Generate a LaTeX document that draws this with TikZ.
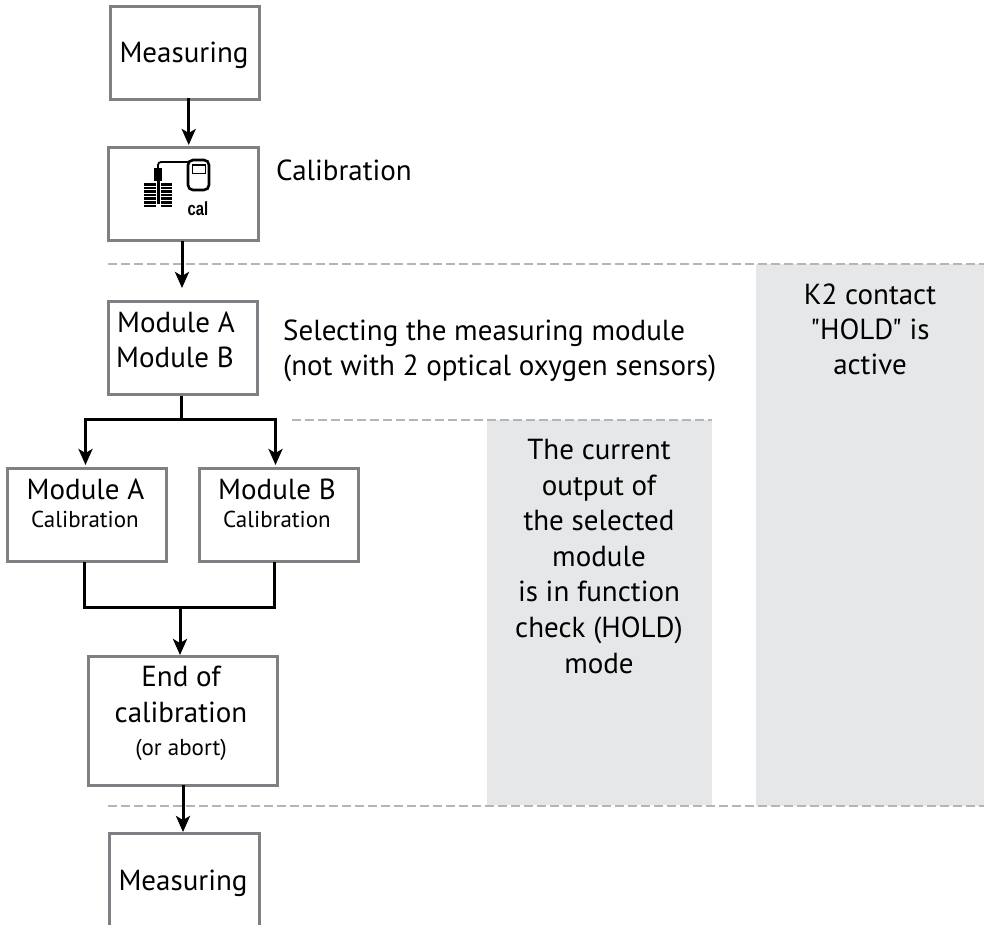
\documentclass[tikz,border=0pt]{standalone}
\usepackage{fontspec}
\setmainfont{PT Sans}
\newfontfamily\plainq{PT Sans}
\newfontfamily\iconfont{Liberation Sans}
\usetikzlibrary{arrows.meta,calc}
\definecolor{boxgray}{HTML}{7F8083}
\definecolor{sepgray}{HTML}{B4B5B8}
\definecolor{shadegray}{HTML}{E6E7E8}
\newcommand{\bigtxt}{\fontsize{29}{35}\selectfont}
\newcommand{\smalltxt}{\fontsize{23}{28}\selectfont}
\tikzset{
 flowbox/.style={draw=boxgray,line width=3pt,fill=white,inner sep=0pt,anchor=north west},
 flow/.style={line width=3pt,draw=black,-{Stealth[length=16pt,width=14pt,inset=4pt]}},
 plain/.style={line width=3pt,draw=black,line join=miter},
 sep/.style={draw=sepgray,line width=2.4pt,dash pattern=on 9pt off 4pt},
 shade/.style={fill=shadegray,draw=none,inner sep=0pt,anchor=north west},
 boxtext/.style={align=center,inner sep=0pt,anchor=base,font=\bigtxt},
 lab/.style={align=left,inner sep=0pt,anchor=north west,font=\bigtxt},
 shadetext/.style={align=center,inner sep=0pt,anchor=north,font=\bigtxt}
}
\begin{document}
\begin{tikzpicture}[x=1pt,y=-1pt]
\useasboundingbox (0,0) rectangle (984,925);
% shaded
\node[shade,minimum width=225pt,minimum height=385pt] (s1) at (487,420) {};
\node[shade,minimum width=228pt,minimum height=542pt] (s2) at (756,264) {};
% separators
\coordinate (d1a) at (108,264); \coordinate (d1b) at (984,264);
\coordinate (d2a) at (292,420); \coordinate (d2b) at (712,420);
\coordinate (d3a) at (108,806); \coordinate (d3b) at (984,806);
\draw[sep] (d1a) -- (d1b);
\draw[sep] (d2a) -- (d2b);
\draw[sep] (d3a) -- (d3b);
% boxes
\node[flowbox,minimum width=149pt,minimum height=93pt] (m1) at (109,5) {};
\node[flowbox,minimum width=150pt,minimum height=93pt] (c) at (107,146) {};
\node[flowbox,minimum width=149pt,minimum height=93pt] (mm) at (107,300) {};
\node[flowbox,minimum width=159pt,minimum height=93pt] (a) at (6,467) {};
\node[flowbox,minimum width=159pt,minimum height=93pt] (b) at (198,467) {};
\node[flowbox,minimum width=189pt,minimum height=129pt] (e) at (87,655) {};
\node[flowbox,minimum width=150pt,minimum height=110pt] (m2) at (108,832) {};
% box texts
\node[boxtext] (m1t) at (184,63) {Measuring};
\node[boxtext] (mm1) at (176,332) {Module A};
\node[boxtext] (mm2) at (175,367) {Module B};
\node[boxtext] (a1) at (85.5,499) {Module A};
\node[boxtext,font=\smalltxt] (a2) at (85,527) {Calibration};
\node[boxtext] (b1) at (277,499) {Module B};
\node[boxtext,font=\smalltxt] (b2) at (277,527) {Calibration};
\node[boxtext] (e1) at (181,686) {End of};
\node[boxtext] (e2) at (181,722) {calibration};
\node[boxtext,font=\smalltxt] (e3) at (181,755) {(or abort)};
\node[boxtext] (m2t) at (183,890) {Measuring};
% icon
\begin{scope}
\foreach \yy in {183,186.6,190.2,193.8,197.4,201,204.6}{\fill (144,\yy) rectangle (155.5,\yy+2.6);\fill (161,\yy) rectangle (172,\yy+2.6);}
\fill (154,168) rectangle (162,181);
\fill (156.8,180) rectangle (159.6,204);
\draw[line width=1.8pt,rounded corners=3pt] (158,170) -- (158,162) -- (188,162);
\draw[line width=2.6pt,rounded corners=5pt] (188,160) rectangle (209,190);
\draw[line width=1.4pt] (192.5,165) rectangle (205.5,173.5);
\node[inner sep=0pt,font=\iconfont\bfseries\fontsize{19}{19}\selectfont,xscale=.78] (calt) at (198,208.5) {cal};
\end{scope}
% side labels
\node[lab] (l1) at (276,160) {Calibration};
\node[lab] (l2) at (283,320) {Selecting the measuring module\\(not with 2 optical oxygen sensors)};
\node[shadetext,font=\fontsize{29}{35.6}\selectfont] (t1) at (599,439) {The current\\output of\\the selected\\module\\is in function\\check (HOLD)\\mode};
\node[shadetext] (t2) at (870,284) {K2 contact\\{\plainq"HOLD"} is\\active};
% connectors
\coordinate (s1a) at (188.7,98); \coordinate (s1b) at (188.7,145);
\draw[flow] (s1a) -- (s1b);
\coordinate (s2a) at (182,241); \coordinate (s2b) at (182,288);
\draw[flow] (s2a) -- (s2b);
\coordinate (j1) at (181.5,419.5);
\draw[plain] (j1|-mm.south) -- (j1);
\coordinate (ta) at (85.5,465); \coordinate (tb) at (275.5,465);
\draw[flow] (j1) -| (ta);
\draw[flow] (j1) -| (tb);
\coordinate (ba) at (84,562); \coordinate (bb) at (274,562); \coordinate (j2) at (180,607.5);
\draw[plain] (ba) |- (j2);
\draw[plain] (bb) |- (j2);
\draw[flow] (j2) -- (j2|-e.north);
\coordinate (s3a) at (183,785);
\draw[flow] (s3a) -- (s3a|-m2.north);
\end{tikzpicture}
\end{document}
